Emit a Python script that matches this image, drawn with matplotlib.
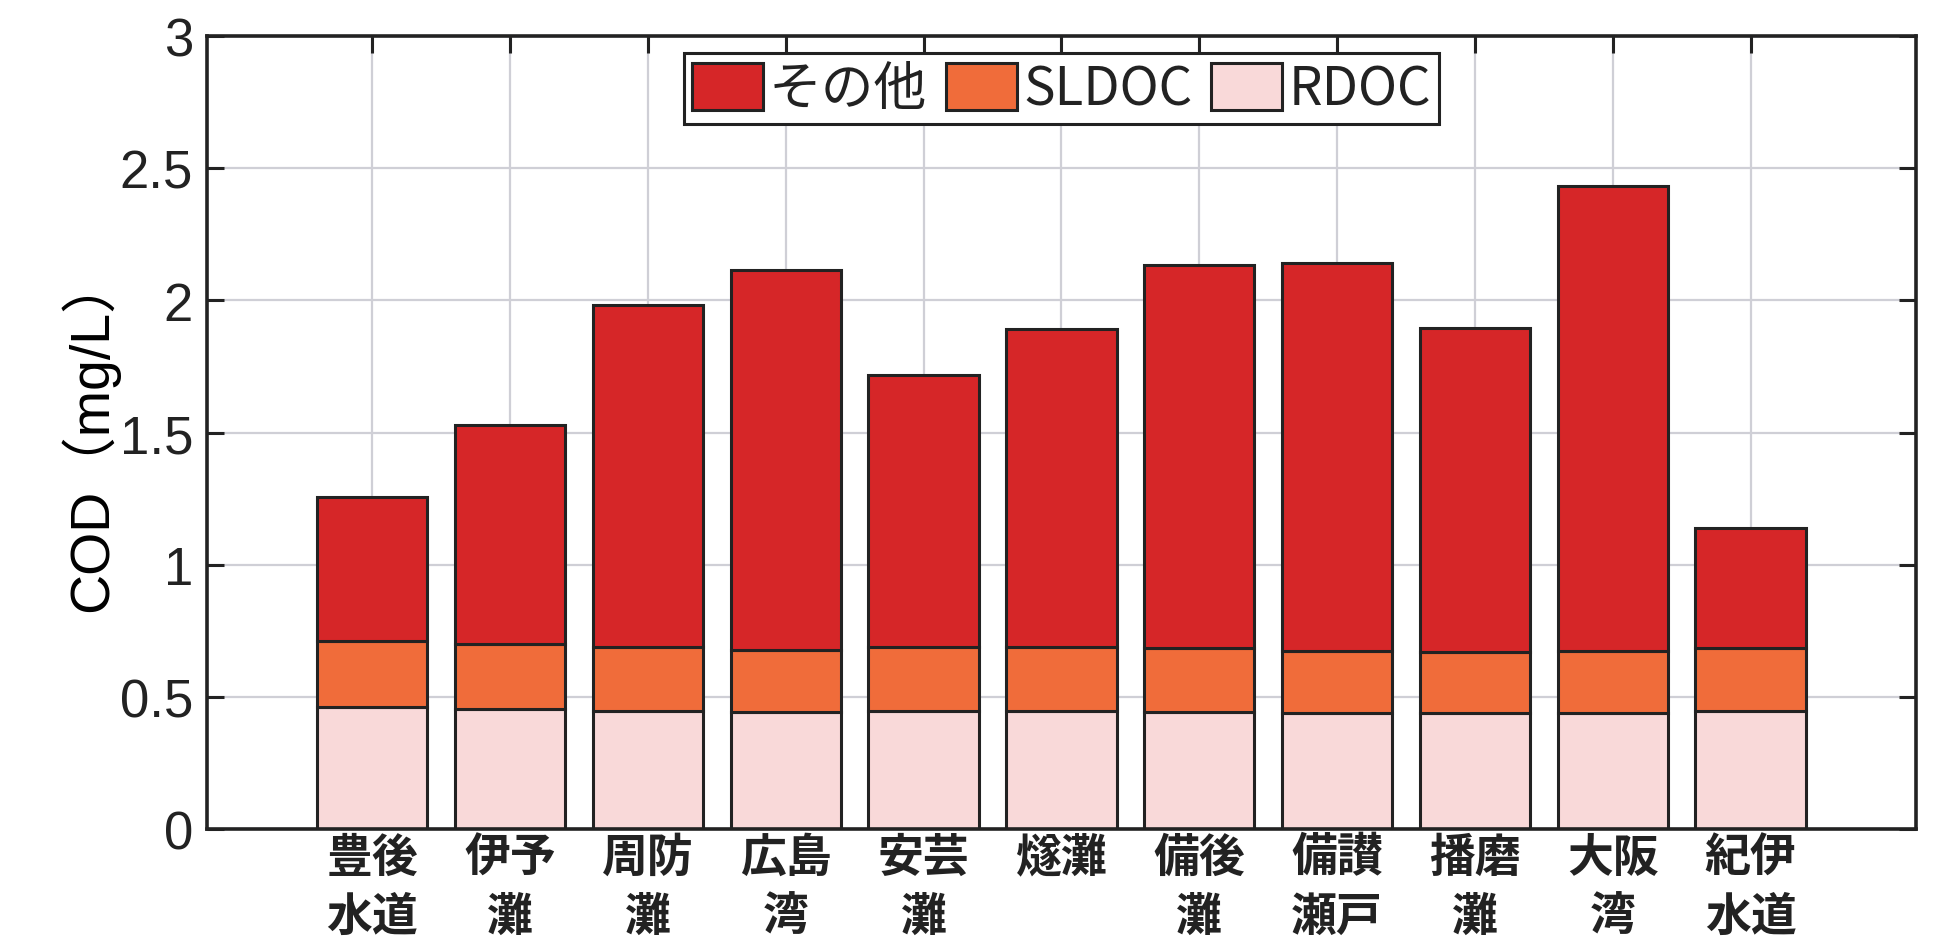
import numpy as np
import matplotlib.pyplot as plt

# 海域ごとの COD 内訳 (mg/L)
areas = ['豊後\n水道', '伊予\n灘', '周防\n灘', '広島\n湾', '安芸\n灘', '燧灘',
         '備後\n灘', '備讃\n瀬戸', '播磨\n灘', '大阪\n湾', '紀伊\n水道']
total = [1.255, 1.528, 1.981, 2.113, 1.717, 1.892, 2.132, 2.142, 1.896, 2.434, 1.137]
rdoc = [0.462, 0.453, 0.448, 0.443, 0.448, 0.448, 0.443, 0.439, 0.439, 0.439, 0.448]
rdoc_sldoc = [0.712, 0.698, 0.689, 0.679, 0.689, 0.689, 0.684, 0.675, 0.670, 0.675, 0.684]
yticks = [0, 0.5, 1, 1.5, 2, 2.5, 3]
ytick_labels = ['0', '0.5', '1', '1.5', '2', '2.5', '3']

sldoc = np.array(rdoc_sldoc) - np.array(rdoc)
other = np.array(total) - np.array(rdoc_sldoc)

plt.rcParams['font.family'] = ['Liberation Sans', 'Noto Sans CJK JP']
plt.rcParams['text.color'] = '#222222'

fig = plt.figure(figsize=(19.54, 9.37), dpi=100)
ax = fig.add_axes([0.1059, 0.1142, 0.8746, 0.8463])

x = np.arange(1, len(areas) + 1)
ec = '#222222'
ax.bar(x, rdoc, 0.8, color='#F9D9D9', edgecolor=ec, linewidth=2.2, label='RDOC', zorder=3)
ax.bar(x, sldoc, 0.8, bottom=rdoc, color='#F06C3A', edgecolor=ec, linewidth=2.2, label='SLDOC', zorder=3)
ax.bar(x, other, 0.8, bottom=rdoc_sldoc, color='#D62628', edgecolor=ec, linewidth=2.2, label='その他', zorder=3)

ax.set_xlim(-0.2, 12.2)
ax.set_ylim(0, 3)
ax.set_xticks(x)
ax.set_xticklabels(areas, family=['Noto Sans CJK JP'], fontweight='bold',
                   fontsize=33, linespacing=1.38)
ax.set_yticks(yticks)
ax.set_yticklabels(ytick_labels, fontsize=38)
ax.tick_params(direction='in', length=12, width=2.2, top=True, right=True, colors='#222222')
ax.tick_params(axis='x', pad=4)
ax.tick_params(axis='y', pad=10)
ax.grid(True, color='#cfcfd6', linewidth=1.6, zorder=0)
ax.set_axisbelow(True)
for s in ax.spines.values():
    s.set_linewidth(2.6)
    s.set_color('#222222')
    s.set_zorder(5)

ax.set_ylabel('COD（mg/L）', fontsize=40, labelpad=0)

handles, labels = ax.get_legend_handles_labels()
leg = ax.legend(handles[::-1], labels[::-1], loc='upper center', ncol=3,
                bbox_to_anchor=(0.5, 0.978), prop={'family': ['Noto Sans CJK JP'], 'size': 38},
                fancybox=False, framealpha=1, edgecolor='#222222',
                handlelength=1.35, handleheight=1.0, handletextpad=0.12,
                columnspacing=0.35, borderpad=0.15, borderaxespad=0)
leg.get_frame().set_linewidth(2.2)
leg.set_zorder(10)

plt.savefig('out.png', dpi=100)
